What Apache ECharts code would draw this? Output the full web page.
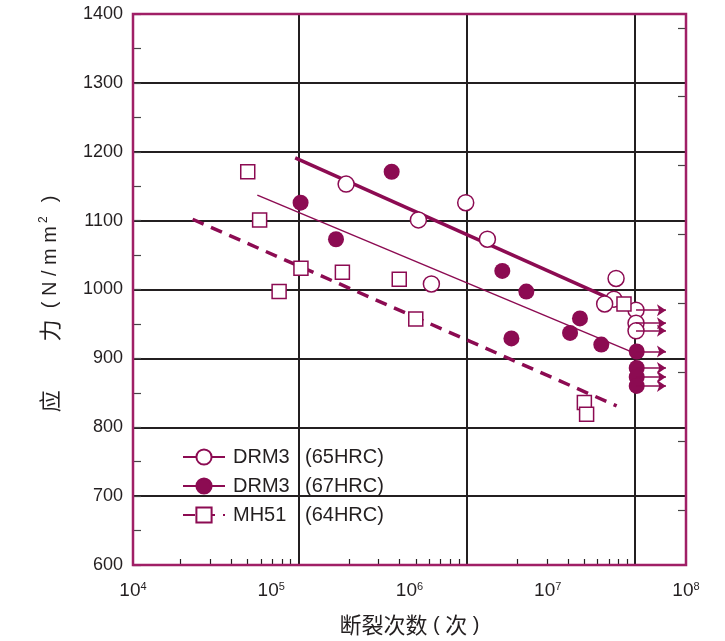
<!DOCTYPE html>
<html><head><meta charset="utf-8">
<script src="https://cdn.jsdelivr.net/npm/echarts@6/dist/echarts.min.js"></script>
<style>html,body{margin:0;padding:0;background:#fff}#c{width:725px;height:641px}</style>
</head><body><div id="c"></div>
<script>
// ---------------- data ----------------
const seriesNames = ['DRM3 (65HRC)', 'DRM3 (67HRC)', 'MH51 (64HRC)'];

const hrc65X = [3.48e5, 1.16e6, 2.55e6, 3.66e6, 1.44e6, 3.12e7, 3.01e7, 2.58e7, 4.35e7, 4.35e7, 4.35e7];
const hrc65Y = [1153, 1101, 1126, 1073, 1008, 1016, 986, 979, 970, 951, 940];
const hrc65Runout = [0, 0, 0, 0, 0, 0, 0, 0, 1, 1, 1];

const hrc67X = [1.63e5, 2.94e5, 7.43e5, 4.69e6, 7.00e6, 5.46e6, 1.71e7, 1.45e7, 2.44e7, 4.40e7, 4.40e7, 4.40e7, 4.40e7];
const hrc67Y = [1126, 1073, 1171, 1027, 997, 929, 958, 937, 920, 910, 886, 873, 860];
const hrc67Runout = [0, 0, 0, 0, 0, 0, 0, 0, 0, 1, 1, 1, 1];

const mh51X = [6.76e4, 8.24e4, 1.64e5, 3.27e5, 1.14e5, 8.43e5, 1.11e6, 3.56e7, 1.84e7, 1.91e7];
const mh51Y = [1171, 1101, 1031, 1025, 997, 1015, 957, 979, 836, 819];

const fit65X = [1.49e5, 2.67e7];
const fit65Y = [1191, 989];
const fit67X = [7.93e4, 4.21e7];
const fit67Y = [1137, 908];
const fit64X = [2.70e4, 3.15e7];
const fit64Y = [1102, 831];

const runoutArrowTipX = 7.16e7;

// axes
const xTickExponents = [4, 5, 6, 7, 8];
const yMin = 600, yMax = 1400, yStep = 100;
const rightTickValues = [680, 780, 880, 980, 1080, 1180, 1280, 1380];
// the printed grid uses its own decade spacing (frame spans decades 4.018 .. 7.303)
const gridDecadeMin = 4.018, gridDecadeMax = 7.303;
const gridDecades = [5, 6, 7];
const minorDecadeStarts = [4, 5, 6];
const minorMultipliers = [2, 3, 4, 5, 6, 7, 8, 9];

// ---------------- styling ----------------
const purple = '#8c0b52';
const framePurple = '#a01f66';
const ink = '#231f20';
const latin = 'Liberation Sans';
const cjk = 'Noto Sans CJK SC';
const G = { left: 133, top: 14, width: 553, height: 551 };

const zip = (xs, ys) => xs.map((x, i) => [x, ys[i]]);
const arrows = (xs, ys, flags) => xs.map((x, i) => flags[i] ? [{ coord: [x, ys[i]] }, { coord: [runoutArrowTipX, ys[i]] }] : null).filter(Boolean);
const minorTickValues = [];
minorDecadeStarts.forEach(d => minorMultipliers.forEach(k => minorTickValues.push(d + Math.log10(k))));

const arrowMarkLine = (xs, ys, flags) => ({
  silent: true, symbol: ['none', 'arrow'], symbolSize: 9,
  label: { show: false }, emphasis: { disabled: true },
  lineStyle: { color: purple, width: 1.5, type: 'solid' },
  data: arrows(xs, ys, flags)
});

const chart = echarts.init(document.getElementById('c'), null, { renderer: 'canvas' });
chart.setOption({
  animation: false,
  backgroundColor: '#fff',
  grid: Object.assign({ containLabel: false }, G),
  xAxis: [
    {
      type: 'log', logBase: 10, min: Math.pow(10, xTickExponents[0]), max: Math.pow(10, xTickExponents[xTickExponents.length - 1]),
      position: 'bottom',
      axisLine: { show: false }, axisTick: { show: false }, splitLine: { show: false },
      axisLabel: {
        margin: 16,
        formatter: v => '{b|10}{s|' + Math.round(Math.log10(v)) + '}',
        rich: {
          b: { fontFamily: latin, fontSize: 19, color: ink, lineHeight: 20 },
          s: { fontFamily: latin, fontSize: 11, color: ink, lineHeight: 11, verticalAlign: 'top' }
        }
      }
    },
    {
      type: 'value', min: gridDecadeMin, max: gridDecadeMax, position: 'bottom',
      axisLine: { show: false }, axisLabel: { show: false }, splitLine: { show: false },
      axisTick: { show: true, inside: true, length: 6, customValues: minorTickValues, lineStyle: { color: ink, width: 1.2 } }
    },
    {
      type: 'value', min: gridDecadeMin, max: gridDecadeMax, position: 'top',
      axisLine: { show: false }, axisLabel: { show: false },
      axisTick: { show: false, customValues: gridDecades },
      splitLine: { show: true, lineStyle: { color: ink, width: 2 } }
    }
  ],
  yAxis: [
    {
      type: 'value', min: yMin, max: yMax, interval: yStep, position: 'left',
      axisLine: { show: false },
      axisTick: { show: true, inside: true, length: 8, lineStyle: { color: '#444', width: 1.2 } },
      minorTick: { show: true, splitNumber: 2, length: 8, lineStyle: { color: '#444', width: 1.2 } },
      splitLine: { show: true, lineStyle: { color: ink, width: 2 } },
      axisLabel: { margin: 10, fontFamily: latin, fontSize: 18, color: ink, formatter: v => String(v) }
    },
    {
      type: 'value', min: yMin, max: yMax, position: 'right',
      axisLine: { show: false }, axisLabel: { show: false }, splitLine: { show: false },
      axisTick: { show: true, inside: true, length: 8, customValues: rightTickValues, lineStyle: { color: '#444', width: 1.2 } }
    }
  ],
  legend: {
    data: seriesNames, orient: 'vertical', left: 177, top: 442,
    itemWidth: 42, itemHeight: 19, itemGap: 9, selectedMode: false,
    formatter: name => { const p = name.split(' '); return '{a|' + p[0] + '}{b|' + p[1] + '}'; },
    textStyle: {
      color: ink, fontFamily: latin, fontSize: 20,
      rich: {
        a: { fontFamily: latin, fontSize: 20, color: ink, width: 72, padding: [0, 0, 0, 3] },
        b: { fontFamily: latin, fontSize: 20, color: ink }
      }
    }
  },
  series: [
    {
      name: seriesNames[0], type: 'line', xAxisIndex: 0, yAxisIndex: 0, data: zip(fit65X, fit65Y),
      showSymbol: false, symbol: 'circle', symbolSize: 16, z: 2, silent: true,
      lineStyle: { color: purple, width: 3.5 },
      itemStyle: { color: '#fff', borderColor: purple, borderWidth: 1.5 },
      markLine: arrowMarkLine(hrc65X, hrc65Y, hrc65Runout)
    },
    {
      name: seriesNames[1], type: 'line', xAxisIndex: 0, yAxisIndex: 0, data: zip(fit67X, fit67Y),
      showSymbol: false, symbol: 'circle', symbolSize: 16, z: 2, silent: true,
      lineStyle: { color: purple, width: 1.5 },
      itemStyle: { color: purple, borderColor: purple, borderWidth: 1 },
      markLine: arrowMarkLine(hrc67X, hrc67Y, hrc67Runout)
    },
    {
      name: seriesNames[2], type: 'line', xAxisIndex: 0, yAxisIndex: 0, data: zip(fit64X, fit64Y),
      showSymbol: false, symbol: 'rect', symbolSize: 14, z: 2, silent: true,
      lineStyle: { color: purple, width: 3.5, type: [12, 8] },
      itemStyle: { color: '#fff', borderColor: purple, borderWidth: 1.5 }
    },
    {
      name: seriesNames[0], type: 'scatter', xAxisIndex: 0, yAxisIndex: 0, data: zip(hrc65X, hrc65Y),
      symbol: 'circle', symbolSize: 16, z: 3, silent: true,
      itemStyle: { color: '#fff', borderColor: purple, borderWidth: 1.5, opacity: 1 }
    },
    {
      name: seriesNames[1], type: 'scatter', xAxisIndex: 0, yAxisIndex: 0, data: zip(hrc67X, hrc67Y),
      symbol: 'circle', symbolSize: 16, z: 3, silent: true,
      itemStyle: { color: purple, opacity: 1 }
    },
    {
      name: seriesNames[2], type: 'scatter', xAxisIndex: 0, yAxisIndex: 0, data: zip(mh51X, mh51Y),
      symbol: 'rect', symbolSize: 14, z: 3, silent: true,
      itemStyle: { color: '#fff', borderColor: purple, borderWidth: 1.5, opacity: 1 }
    }
  ],
  graphic: [
    {
      type: 'rect', silent: true, z: 100,
      shape: { x: G.left, y: G.top, width: G.width, height: G.height },
      style: { fill: 'none', stroke: framePurple, lineWidth: 2.5 }
    },
    {
      type: 'text', silent: true, z: 100, x: 50, y: 304, rotation: Math.PI / 2,
      style: {
        text: '{c|应\u3000\u3000 力}{l|  ( N / m m}{s|2}{l|  )}',
        align: 'center', verticalAlign: 'middle', fill: ink,
        rich: {
          c: { fontFamily: cjk, fontSize: 22, fill: ink, lineHeight: 24 },
          l: { fontFamily: latin, fontSize: 20, fill: ink, lineHeight: 24 },
          s: { fontFamily: latin, fontSize: 12, fill: ink, lineHeight: 12, verticalAlign: 'top', padding: [0, 3, 0, 3] }
        }
      }
    },
    {
      type: 'text', silent: true, z: 100, x: 409.5, y: 625,
      style: {
        text: '{c|断裂次数}{l| ( }{c|次}{l| )}',
        align: 'center', verticalAlign: 'middle', fill: ink,
        rich: {
          c: { fontFamily: cjk, fontSize: 22, fill: ink, lineHeight: 24 },
          l: { fontFamily: latin, fontSize: 20, fill: ink, lineHeight: 24 }
        }
      }
    }
  ]
});
</script>
</body></html>
